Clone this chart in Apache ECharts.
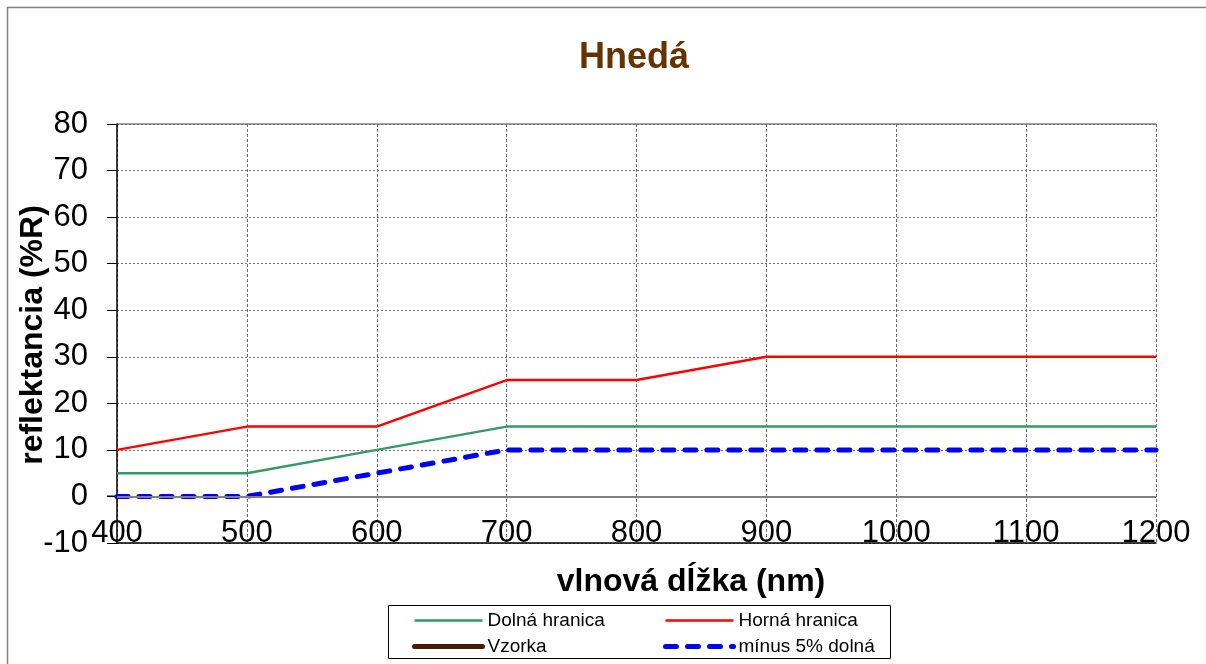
<!DOCTYPE html>
<html><head><meta charset="utf-8">
<script src="https://cdn.jsdelivr.net/npm/echarts@6/dist/echarts.min.js"></script>
<style>html,body{margin:0;padding:0;background:#fff}#c{width:1206px;height:664px}</style>
</head><body><div id="c"></div>
<script>
const wavelengths = [400, 500, 600, 700, 800, 900, 1000, 1100, 1200];
const dolna = [5, 5, 10, 15, 15, 15, 15, 15, 15];
const horna = [10, 15, 15, 25, 25, 30, 30, 30, 30];
const vzorka = [];
const minus5 = [0, 0, 5, 10, 10, 10, 10, 10, 10];
const seriesNames = ['Dolná hranica', 'Horná hranica', 'Vzorka', 'mínus 5% dolná'];
const titleText = 'Hnedá';
const xTitle = 'vlnová dĺžka (nm)';
const yTitle = 'reflektancia (%R)';

const pair = (xs, ys) => ys.map((v, i) => [xs[i], v]);
const F = 'Arial, "Liberation Sans", sans-serif';
const legendBase = {
  orient: 'vertical', top: 611, padding: 0,
  itemWidth: 68, itemHeight: 14, itemGap: 7,
  itemStyle: { opacity: 0 },
  textStyle: { fontFamily: F, fontSize: 19, color: '#000' }
};
const chart = echarts.init(document.getElementById('c'));
chart.setOption({
  animation: false,
  title: { text: titleText, left: 629, top: 35, textAlign: 'center',
    textStyle: { fontFamily: F, fontSize: 36, fontWeight: 'bold', color: '#663300' } },
  grid: { left: 117, right: 50, top: 124, bottom: 121, show: false },
  xAxis: { type: 'value', min: 400, max: 1200, interval: 100,
    axisLine: { onZero: false, lineStyle: { color: '#000', width: 1.5 } },
    axisTick: { show: false },
    axisLabel: { fontFamily: F, fontSize: 31, color: '#000', margin: 6, verticalAlign: 'bottom',
      formatter: v => String(v) },
    splitLine: { show: true, lineStyle: { color: '#707070', type: [3, 2], width: 1 } } },
  yAxis: { type: 'value', min: -10, max: 80, interval: 10,
    axisLine: { show: true, lineStyle: { color: '#000', width: 1.5 } },
    axisTick: { show: true, length: 10, inside: false, lineStyle: { color: '#000' } },
    axisLabel: { fontFamily: F, fontSize: 31, color: '#000', margin: 29 },
    splitLine: { show: true, lineStyle: { color: '#707070', type: [2, 2], width: 1 } } },
  legend: [
    Object.assign({}, legendBase, { left: 412, data: [
      { name: seriesNames[0], lineStyle: { width: 2.5 } },
      { name: seriesNames[2], lineStyle: { width: 5 } }] }),
    Object.assign({}, legendBase, { left: 663, data: [
      { name: seriesNames[1], lineStyle: { width: 2.5 } },
      { name: seriesNames[3], lineStyle: { width: 5 } }] })
  ],
  series: [
    { name: seriesNames[0], type: 'line', data: pair(wavelengths, dolna), symbol: 'none',
      lineStyle: { color: '#339966', width: 2.5 }, itemStyle: { color: '#339966' }, z: 3,
      markLine: { silent: true, symbol: 'none', label: { show: false },
        lineStyle: { color: '#808080', width: 2, type: 'solid' }, data: [{ yAxis: 0 }] } },
    { name: seriesNames[1], type: 'line', data: pair(wavelengths, horna), symbol: 'none',
      lineStyle: { color: '#FF0000', width: 2.5 }, itemStyle: { color: '#FF0000' }, z: 3 },
    { name: seriesNames[2], type: 'line', data: vzorka, symbol: 'none',
      lineStyle: { color: '#4D1A00', width: 5, cap: 'round' }, itemStyle: { color: '#4D1A00' }, z: 3 },
    { name: seriesNames[3], type: 'line', data: pair(wavelengths, minus5), symbol: 'none',
      lineStyle: { color: '#0000FF', width: 5, type: [11, 11], cap: 'round' }, itemStyle: { color: '#0000FF' }, z: 4 }
  ],
  graphic: [
    { type: 'rect', shape: { x: 7.5, y: 7.5, width: 1200, height: 670 }, style: { fill: 'none', stroke: '#808080', lineWidth: 1.5 }, silent: true },
    { type: 'line', shape: { x1: 107, y1: 496, x2: 117, y2: 496 }, style: { stroke: '#808080', lineWidth: 2 } },
    { type: 'line', shape: { x1: 117, y1: 124, x2: 1156, y2: 124 }, style: { stroke: '#404040', lineWidth: 1 } },
    { type: 'rect', shape: { x: 388.5, y: 605.5, width: 502, height: 53 }, style: { fill: 'none', stroke: '#000', lineWidth: 1 }, silent: true },
    { type: 'text', x: 691, y: 582, style: { text: xTitle, fontFamily: F, fontSize: 32, fontWeight: 'bold', fill: '#000', align: 'center', verticalAlign: 'middle' } },
    { type: 'text', x: 33, y: 335, rotation: Math.PI / 2, style: { text: yTitle, fontFamily: F, fontSize: 32, fontWeight: 'bold', fill: '#000', align: 'center', verticalAlign: 'middle' } }
  ]
});
</script></body></html>
